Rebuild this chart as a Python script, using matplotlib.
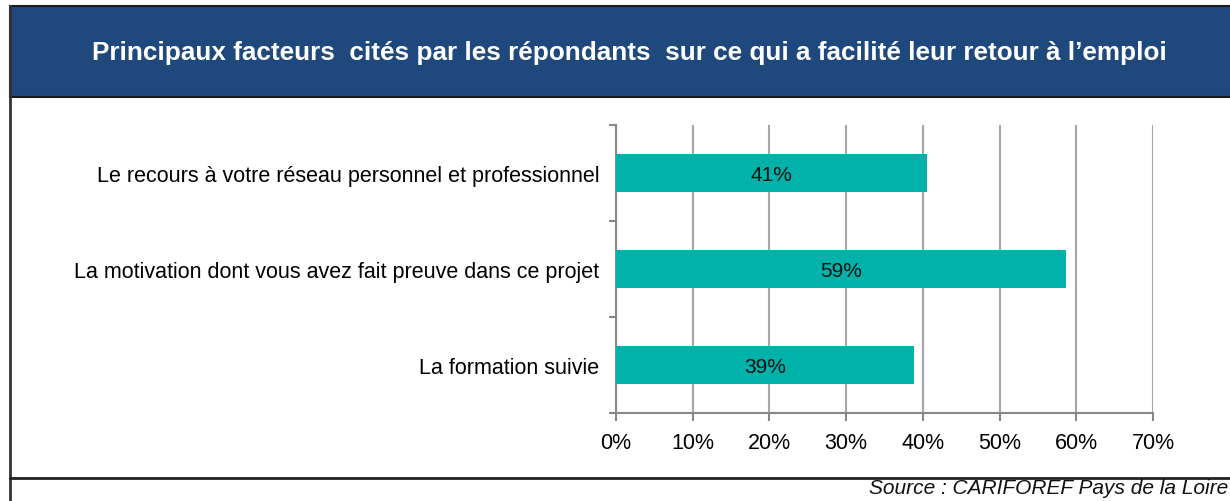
import matplotlib.pyplot as plt
from matplotlib.patches import Rectangle
from matplotlib.lines import Line2D

categories = ["Le recours à votre réseau personnel et professionnel",
              "La motivation dont vous avez fait preuve dans ce projet",
              "La formation suivie"]
values = [40.6, 58.7, 38.9]
labels = ["41%", "59%", "39%"]
xticks = [0, 10, 20, 30, 40, 50, 60, 70]

title = "Principaux facteurs  cités par les répondants  sur ce qui a facilité leur retour à l\u2019emploi"
source = "Source : CARIFOREF Pays de la Loire"

plt.rcParams['font.family'] = ['Liberation Sans', 'DejaVu Sans']

fig = plt.figure(figsize=(12.3, 5.02), dpi=100)
W, H = 1230, 502

# title band and frame
fig.add_artist(Rectangle((10 / W, 1 - 98 / H), 1.0, 91 / H, transform=fig.transFigure,
                         facecolor="#1F497D", edgecolor="#1a1a1a", lw=1.5))
fig.text(629 / W, 1 - 53 / H, title, color="white", fontsize=18.8, fontweight="bold",
         ha="center", va="center")
fig.add_artist(Line2D([10 / W, 10 / W], [0, 1 - 7 / H], transform=fig.transFigure,
                      color="#333333", lw=2))
fig.add_artist(Line2D([10 / W, 1], [1 - 479 / H, 1 - 479 / H], transform=fig.transFigure,
                      color="#222222", lw=2))
fig.text(1228 / W, 1 - 489 / H, source, fontsize=15, style="italic", ha="right",
         va="center", color="#111111")

ax = fig.add_axes([616 / W, 1 - 414 / H, (1153 - 616) / W, (414 - 126) / H])
y = list(range(len(categories)))
ax.barh(y, values, height=0.4, color="#00B2A9", zorder=3)
for yi, v, lab in zip(y, values, labels):
    ax.text(v / 2, yi + 0.02, lab, ha="center", va="center", fontsize=15, color="#111111",
            zorder=4)

ax.set_xlim(0, 70)
ax.set_ylim(len(categories) - 0.5, -0.5)
ax.set_xticks(xticks)
ax.set_xticklabels([f"{t}%" for t in xticks], fontsize=15.5)
ax.set_yticks(y)
ax.set_yticklabels(categories, fontsize=15.5)
ax.set_yticks([-0.5, 0.5, 1.5, 2.5], minor=True)
ax.tick_params(axis="y", which="major", length=0, pad=12)
ax.tick_params(axis="y", which="minor", length=5, color="#888888", width=1.5)
ax.tick_params(axis="x", length=6, color="#888888", width=1.5, pad=8)
ax.grid(axis="x", color="#A6A6A6", lw=1.5, zorder=0)
for s in ["top", "right"]:
    ax.spines[s].set_visible(False)
ax.spines["left"].set_color("#888888")
ax.spines["left"].set_linewidth(1.5)
ax.spines["bottom"].set_color("#888888")
ax.spines["bottom"].set_linewidth(1.5)

fig.savefig("out.png", dpi=100)
